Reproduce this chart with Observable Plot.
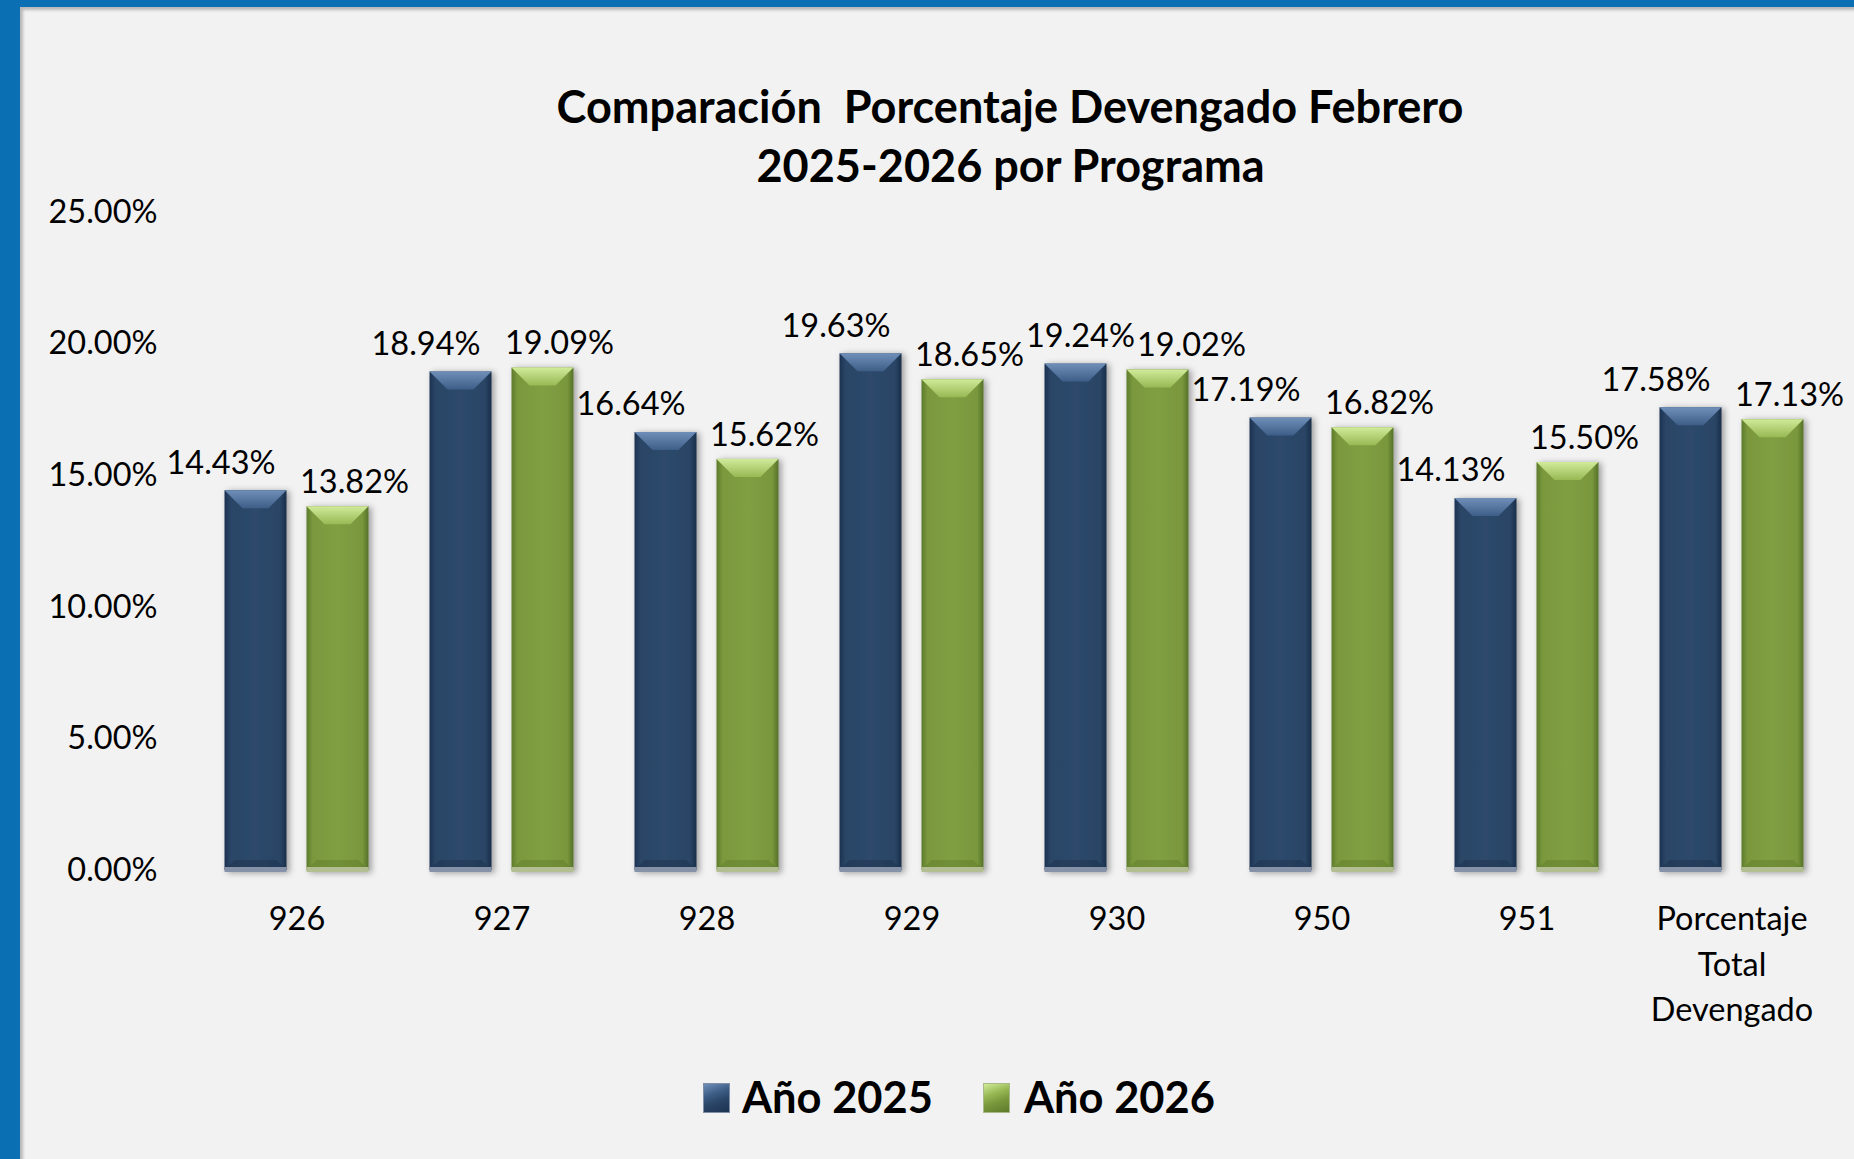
<!DOCTYPE html>
<html><head><meta charset="utf-8">
<script src="https://cdn.jsdelivr.net/npm/d3@7"></script>
<script src="https://cdn.jsdelivr.net/npm/@observablehq/plot@0.6"></script>
<style>
html,body{margin:0;padding:0;width:1854px;height:1159px;overflow:hidden;background:#0b6fb3;}
#panel{position:absolute;left:20px;top:7px;width:1834px;height:1152px;background:#f2f2f2;box-shadow: inset 4px 4px 3px -1px #b8b8b8;}
.t{position:absolute;white-space:pre;font-family:Lato;color:#000;line-height:normal;}
#chart{position:absolute;left:0;top:190px;}
.sw{position:absolute;width:27px;height:30px;box-sizing:border-box;}
</style></head><body>
<div id="panel"></div>
<div id="chart"></div>
<script>
// ---- data ----
const programas = ["926","927","928","929","930","950","951","Porcentaje Total Devengado"];
const series = ["Año 2025","Año 2026"];
const valores2025 = [0.1443,0.1894,0.1664,0.1963,0.1924,0.1719,0.1413,0.1758];
const valores2026 = [0.1382,0.1909,0.1562,0.1865,0.1902,0.1682,0.1550,0.1713];
const yTicks = [0,0.05,0.10,0.15,0.20,0.25];
const titleLines = ["Comparación  Porcentaje Devengado Febrero","2025-2026 por Programa"];

const data2025 = programas.map((p,i)=>({programa:p, serie:series[0], valor:valores2025[i]}));
const data2026 = programas.map((p,i)=>({programa:p, serie:series[1], valor:valores2026[i]}));

// ---- text fitting helpers ----
const ctx = document.createElement("canvas").getContext("2d");
function fitSize(text, weight, target){ ctx.font = `${weight} 100px Lato`; return 100*target/ctx.measureText(text).width; }
function metrics(text, weight, size){ ctx.font = `${weight} ${size}px Lato`; const m = ctx.measureText(text); return {w:m.width, asc:m.fontBoundingBoxAscent}; }
function placeText(text, weight, size, left, baseline, center){
  const m = metrics(text, weight, size);
  const d = document.createElement("div");
  d.className = "t"; d.textContent = text;
  d.style.fontWeight = weight; d.style.fontSize = size+"px";
  d.style.left = (center ? left - m.w/2 : left) + "px";
  d.style.top = (baseline - m.asc) + "px";
  document.body.appendChild(d);
}

// title
const tSize = fitSize(titleLines[0], "bold", 907);
placeText(titleLines[0], "bold", tSize, 1010, 123, true);
placeText(titleLines[1], "bold", tSize, 1011, 182, true);

// ---- chart ----
const W = 1854, H = 840, mL = 194, mR = 20, mT = 22, mB = 160;
const bandW = (W - mL - mR)/programas.length;
const barW = 62, gap = 20;
const outer = (bandW - 2*barW - gap)/2;
const fs = fitSize("25.00%", "normal", 109);
const fmt = d3.format(".2%");

const chart = Plot.plot({
  width: W, height: H, marginLeft: mL, marginRight: mR, marginTop: mT, marginBottom: mB,
  style: {background: "none", fontFamily: "Lato", color: "#000", overflow: "visible"},
  x: {domain: programas, type: "band", padding: 0},
  y: {domain: [0, 0.25]},
  marks: [
    Plot.axisY({ticks: yTicks, tickFormat: fmt, tickSize: 0, tickPadding: 37, fontSize: fs, label: null}),
    Plot.axisX({tickSize: 0, tickPadding: 27.5, fontSize: fs, lineHeight: 1.4, tickFormat: d => d.replace(/ /g, "\n"), label: null}),
    Plot.barY(data2025, {x: "programa", y: "valor", fill: "url(#gBlueBody)", insetLeft: outer, insetRight: bandW - outer - barW}),
    Plot.barY(data2026, {x: "programa", y: "valor", fill: "url(#gGreenBody)", insetLeft: outer + barW + gap, insetRight: outer}),
    Plot.text(data2025, {x: "programa", y: "valor", text: d => fmt(d.valor), fontSize: fs, dx: -(gap/2 + barW/2) - 35, dy: -27.5}),
    Plot.text(data2026, {x: "programa", y: "valor", text: d => fmt(d.valor), fontSize: fs, dx: (gap/2 + barW/2) + 16.5, dy: -24})
  ]
});
document.getElementById("chart").appendChild(chart);

// defs: gradients + shadow
const NS = "http://www.w3.org/2000/svg";
const svg = d3.select(chart);
const defs = svg.insert("defs", ":first-child");
function grad(id, horiz, stops){
  const g = defs.append("linearGradient").attr("id", id).attr("x1",0).attr("y1",0).attr("x2",horiz?1:0).attr("y2",horiz?0:1);
  stops.forEach(([o,c,op]) => g.append("stop").attr("offset",o).attr("stop-color",c).attr("stop-opacity", op==null?1:op));
}
grad("gBlueBody", true, [[0,"#1d3352"],[0.1,"#2a4566"],[0.5,"#2d4a6c"],[0.9,"#294465"],[1,"#1a2d48"]]);
grad("gBlueTop", false, [[0,"#6f8fb9"],[1,"#3d5e87"]]);
grad("gGreenBody", true, [[0,"#5d7b2b"],[0.1,"#7a993d"],[0.5,"#809f43"],[0.9,"#79973c"],[1,"#55712a"]]);
grad("gGreenTop", false, [[0,"#d0eb9a"],[1,"#97b954"]]);
const f = defs.append("filter").attr("id","sh").attr("x","-30%").attr("y","-10%").attr("width","170%").attr("height","125%");
f.append("feDropShadow").attr("dx",3).attr("dy",1).attr("stdDeviation",3).attr("flood-color","#000").attr("flood-opacity",0.35);

const barGroups = chart.querySelectorAll('g[aria-label="bar"]');
function bevel(g, topGrad, bottomColor, bottomDark){
  if (!g) return;
  g.setAttribute("filter","url(#sh)");
  g.querySelectorAll("rect").forEach(r => {
    const x = +r.getAttribute("x"), y = +r.getAttribute("y"), w = +r.getAttribute("width"), h = +r.getAttribute("height");
    const b = 18, bb = 10;
    const top = document.createElementNS(NS, "polygon");
    top.setAttribute("points", `${x},${y} ${x+w},${y} ${x+w-b},${y+b} ${x+b},${y+b}`);
    top.setAttribute("fill", `url(#${topGrad})`);
    r.parentNode.appendChild(top);
    const bot = document.createElementNS(NS, "polygon");
    bot.setAttribute("points", `${x},${y+h} ${x+w},${y+h} ${x+w-bb},${y+h-bb} ${x+bb},${y+h-bb}`);
    bot.setAttribute("fill", bottomDark); bot.setAttribute("fill-opacity", 0.3);
    r.parentNode.appendChild(bot);
    const strip = document.createElementNS(NS, "rect");
    strip.setAttribute("x", x); strip.setAttribute("y", y+h-3); strip.setAttribute("width", w); strip.setAttribute("height", 5);
    strip.setAttribute("fill", bottomColor);
    r.parentNode.appendChild(strip);
  });
}
bevel(barGroups[0], "gBlueTop", "#8592a8", "#16263d");
bevel(barGroups[1], "gGreenTop", "#b3bf92", "#4f6a22");

// resolve overlapping value labels (shift right just enough)
const textGroups = chart.querySelectorAll('g[aria-label="text"]');
if (textGroups.length >= 2) {
  const tb = [...textGroups[0].querySelectorAll("text")], tg = [...textGroups[1].querySelectorAll("text")];
  const labs = [];
  programas.forEach((p,i) => { if (tb[i]) labs.push(tb[i]); if (tg[i]) labs.push(tg[i]); });
  let prev = null;
  labs.forEach(el => {
    const r = el.getBoundingClientRect();
    const cy = (r.top + r.bottom)/2;
    if (prev && r.left < prev.right + 2 && Math.abs(cy - prev.cy) < 28) {
      const shift = prev.right + 2 - r.left;
      el.setAttribute("transform", (el.getAttribute("transform") || "") + ` translate(${shift},0)`);
      prev = {right: r.right + shift, cy};
    } else prev = {right: r.right, cy};
  });
}

// legend
const lSize = fitSize("Año 2025", "bold", 191);
const sw1 = document.createElement("div"); sw1.className = "sw";
sw1.style.left = "703px"; sw1.style.top = "1083px";
sw1.style.background = "linear-gradient(160deg,#6f8fb9 0%,#3d5e87 35%,#2b4668 60%,#1d3352 100%)"; sw1.style.border = "1px solid #7e8ea6";
document.body.appendChild(sw1);
const sw2 = document.createElement("div"); sw2.className = "sw";
sw2.style.left = "983px"; sw2.style.top = "1083px";
sw2.style.background = "linear-gradient(160deg,#d0eb9a 0%,#97b954 35%,#7a993d 60%,#5d7b2b 100%)"; sw2.style.border = "1px solid #a9b88a";
document.body.appendChild(sw2);
placeText(series[0], "bold", lSize, 742, 1113, false);
placeText(series[1], "bold", lSize, 1024, 1113, false);
</script></body></html>
